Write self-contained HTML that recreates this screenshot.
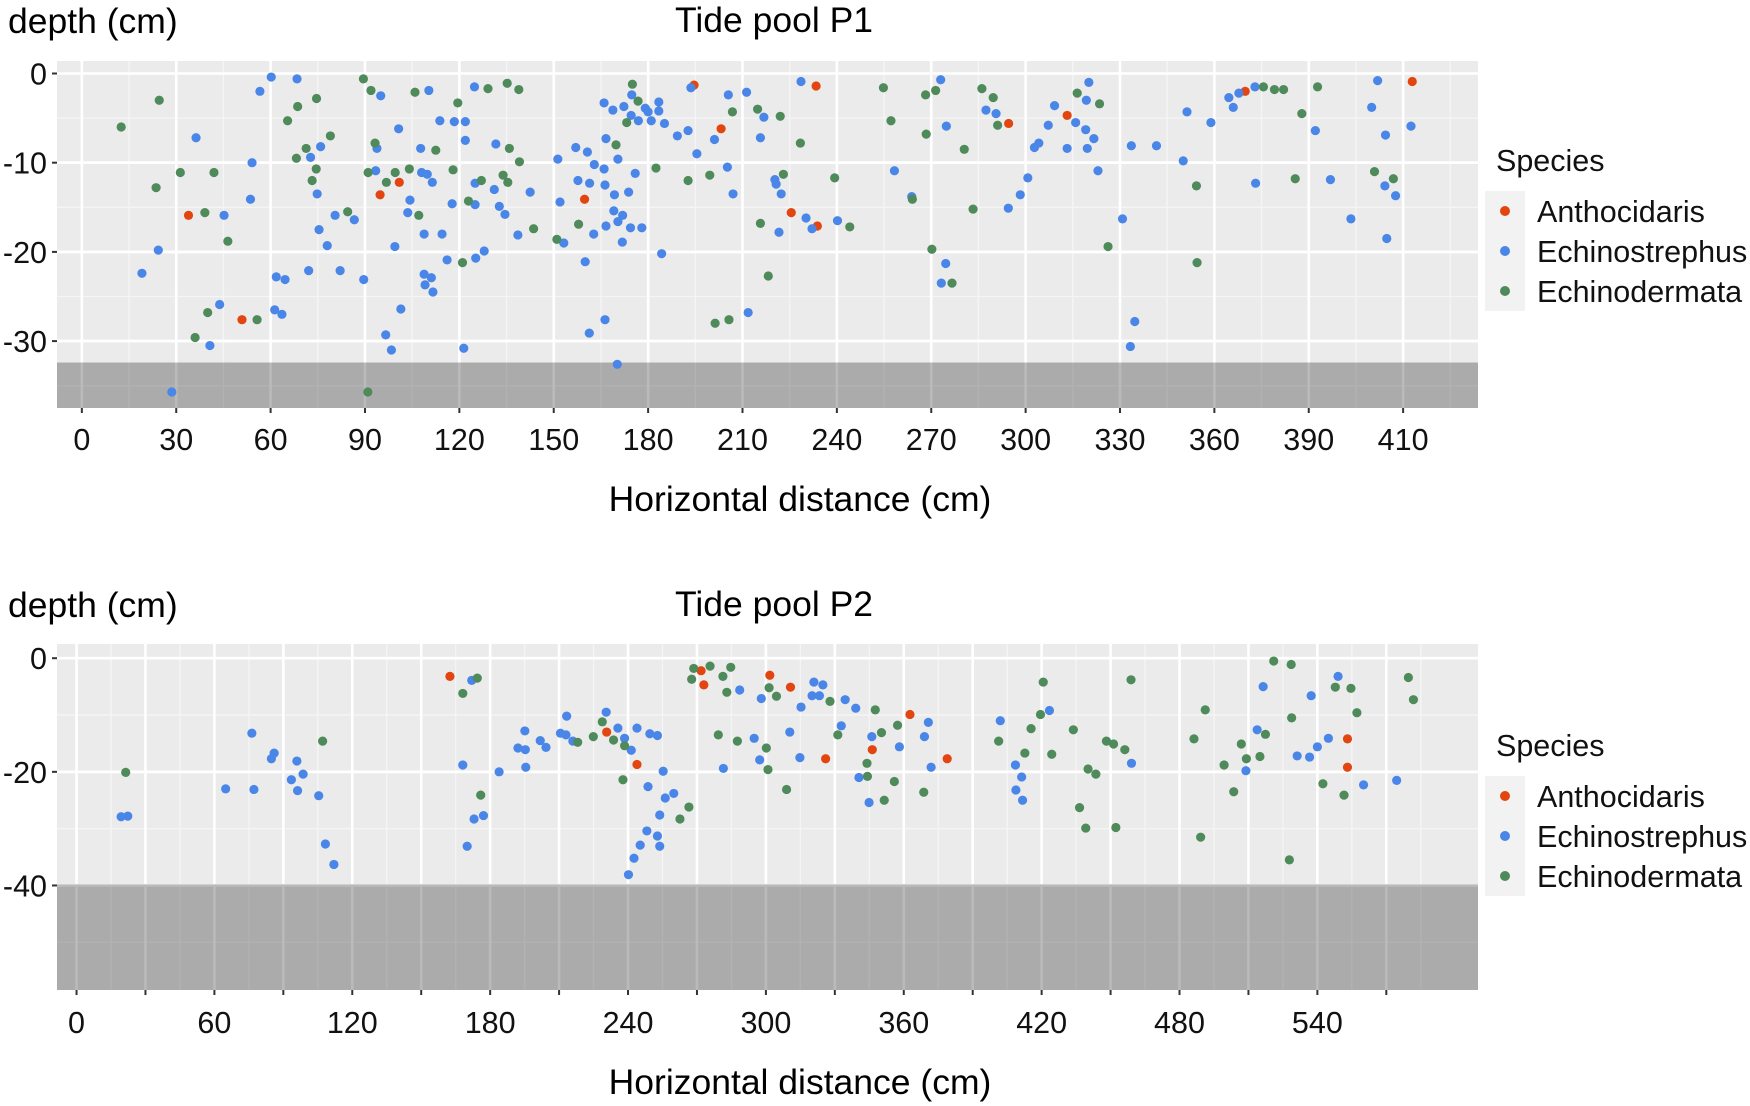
<!DOCTYPE html>
<html><head><meta charset="utf-8"><title>Tide pools</title>
<style>
html,body{margin:0;padding:0;background:#fff;}
svg{display:block;font-family:"Liberation Sans",sans-serif;}
</style></head>
<body>
<svg id="chart" width="1750" height="1106" viewBox="0 0 1750 1106" xmlns="http://www.w3.org/2000/svg">
<text x="8" y="33" font-size="35.5">depth (cm)</text>
<text x="774" y="32" font-size="35.5" text-anchor="middle">Tide pool P1</text>
<text x="800" y="511" font-size="35.5" text-anchor="middle">Horizontal distance (cm)</text>
<text x="8" y="617" font-size="35.5">depth (cm)</text>
<text x="774" y="616" font-size="35.5" text-anchor="middle">Tide pool P2</text>
<text x="800" y="1094" font-size="35.5" text-anchor="middle">Horizontal distance (cm)</text>
<g id="p1"></g>
<g id="p2"></g>
</svg>
<script>
const speciesNames = ["Anthocidaris","Echinostrephus","Echinodermata"];
const speciesColors = ["#e2450f","#4a86e8","#4f8a5b"];

// P1 data [x, depth]
const p1Antho = [[33.9,-15.9],[50.9,-27.6],[94.8,-13.6],[100.9,-12.2],[159.8,-14.1],[194.6,-1.3],[203.2,-6.2],[233.4,-1.4],[225.5,-15.6],[233.8,-17.1],[294.6,-5.6],[313.2,-4.7],[369.8,-2],[422.9,-0.9]];
const p1Echinos = [[19.1,-22.4],[24.3,-19.8],[36.3,-7.2],[28.6,-35.7],[40.7,-30.5],[43.8,-25.9],[45.2,-15.9],[53.6,-14.1],[54.1,-10],[56.6,-2],[60.2,-0.4],[68.4,-0.6],[72.7,-9.4],[75.9,-8.2],[74.8,-13.5],[75.4,-17.5],[78,-19.3],[80.5,-15.9],[86.6,-16.4],[72.1,-22.1],[82.1,-22.1],[61.8,-22.8],[64.6,-23.1],[61.3,-26.5],[63.6,-27],[89.6,-23.1],[95,-2.5],[93.8,-8.4],[93.4,-10.9],[100.7,-6.2],[99.5,-19.4],[96.6,-29.3],[98.4,-31],[101.4,-26.4],[107.7,-8.4],[108,-11.1],[109.8,-11.3],[111.4,-12.2],[104.3,-14.2],[103.6,-15.6],[110.3,-1.9],[108.8,-18],[114.5,-18],[113.8,-5.3],[108.8,-22.5],[111.1,-22.9],[109.1,-23.7],[111.6,-24.5],[116.1,-20.9],[117.7,-14.6],[118.4,-5.4],[121.9,-5.4],[121.9,-7.5],[124.8,-1.5],[125,-12.3],[125,-14.7],[125.2,-20.7],[127.9,-19.9],[121.4,-30.8],[131.6,-7.9],[131.1,-13],[132.7,-14.9],[134.5,-15.8],[138.6,-18.1],[142.5,-13.3],[151.3,-9.6],[152,-14.4],[153.2,-19],[157,-8.3],[157.7,-12],[160.7,-8.8],[161.4,-12.3],[162.9,-10.2],[166,-10.7],[166.3,-12.5],[166.6,-7.3],[166,-3.3],[168.8,-4.1],[172.3,-3.7],[174.8,-2.4],[174.6,-4.7],[176.9,-5.3],[179.1,-3.9],[180,-4.3],[181,-5.3],[183.4,-3.2],[183.4,-4.2],[185.2,-5.6],[170.4,-9.6],[175.9,-11.2],[169.3,-13.6],[173.8,-13.3],[169.1,-15.4],[171.9,-15.9],[170.4,-16.6],[166.6,-17.1],[174.4,-17.3],[178,-17.3],[162.7,-18],[171.8,-18.9],[160,-21.1],[184.3,-20.2],[166.3,-27.6],[161.3,-29.1],[170.2,-32.6],[189.3,-7],[192.7,-6.4],[193.6,-1.6],[195.5,-9],[201.1,-7.4],[205.5,-2.4],[211.3,-2.1],[205.2,-10.5],[207,-13.5],[216.8,-4.9],[215.7,-7.2],[220.3,-11.9],[220.7,-12.4],[222.3,-13.5],[221.6,-17.8],[211.8,-26.8],[228.6,-0.9],[230.2,-16.2],[232.1,-17.4],[240.2,-16.5],[273,-0.7],[258.3,-10.9],[263.8,-13.8],[274.8,-5.9],[274.6,-21.3],[273.2,-23.5],[287.4,-4.1],[290.6,-4.5],[294.5,-15.1],[298.3,-13.6],[300.7,-11.7],[302.8,-8.3],[304.2,-7.8],[307.2,-5.8],[309.2,-3.6],[313.2,-8.4],[315.9,-5.5],[319.1,-6.3],[319.3,-3],[320.1,-1],[319.6,-8.4],[321.7,-7.3],[323,-10.9],[330.8,-16.3],[333.6,-8.1],[341.6,-8.1],[334.7,-27.8],[333.3,-30.6],[350.1,-9.8],[351.3,-4.3],[358.9,-5.5],[364.6,-2.7],[366,-3.8],[367.8,-2.2],[372.9,-1.5],[373.1,-12.3],[392.1,-6.4],[396.9,-11.9],[403.4,-16.3],[410,-3.8],[411.9,-0.8],[414.4,-6.9],[414.2,-12.6],[417.6,-13.7],[414.8,-18.5],[422.5,-5.9]];
const p1Echinod = [[12.5,-6],[24.6,-3],[23.6,-12.8],[31.3,-11.1],[42,-11.1],[39.1,-15.6],[46.4,-18.8],[40,-26.8],[36,-29.6],[55.7,-27.6],[65.4,-5.3],[68.6,-3.7],[74.6,-2.8],[79,-7],[71.3,-8.4],[68.2,-9.5],[74.5,-10.7],[73.2,-12],[84.5,-15.5],[89.5,-0.6],[91.9,-1.9],[93.2,-7.8],[91,-11.1],[96.8,-12.2],[99.6,-11.1],[104.1,-10.7],[105.9,-2.1],[107.1,-15.9],[112.5,-8.6],[119.5,-3.3],[118,-10.8],[122.9,-14.3],[121,-21.2],[127,-12],[129.1,-1.7],[135.2,-1.1],[138.9,-1.8],[135.9,-8.4],[133.9,-11.4],[135.4,-12.2],[139.1,-9.9],[143.6,-17.4],[151,-18.6],[157.9,-16.9],[175,-1.2],[176.8,-3.1],[173.2,-5.5],[169.8,-8],[182.5,-10.6],[192.7,-12],[199.6,-11.4],[206.8,-4.3],[214.8,-4],[222,-4.8],[228.4,-7.8],[223,-11.3],[215.7,-16.8],[218.2,-22.7],[201.3,-28],[205.7,-27.6],[239.3,-11.7],[244.1,-17.2],[90.9,-35.7],[254.8,-1.6],[257.2,-5.3],[268.2,-2.4],[271.4,-1.9],[268.4,-6.8],[280.5,-8.5],[286.1,-1.7],[289.7,-2.7],[291.1,-5.8],[264,-14.1],[283.3,-15.2],[270.2,-19.7],[276.6,-23.5],[316.4,-2.2],[323.5,-3.4],[326.2,-19.4],[354.3,-12.6],[354.5,-21.2],[375.6,-1.5],[379.1,-1.8],[382,-1.8],[392.8,-1.5],[387.8,-4.5],[385.7,-11.8],[410.9,-11],[416.9,-11.8]];

// P2 data
const p2Antho = [[162.5,-3.2],[230.7,-13],[243.9,-18.7],[271.8,-2.2],[273,-4.7],[301.7,-3],[310.7,-5.1],[326,-17.7],[346.3,-16.1],[362.7,-9.9],[378.9,-17.7],[553.1,-14.2],[553.1,-19.2]];
const p2Echinos = [[19.4,-27.9],[22.3,-27.8],[64.9,-23],[76.3,-13.2],[77.2,-23.1],[84.8,-17.7],[86,-16.7],[93.5,-21.4],[95.9,-18.1],[96.2,-23.3],[98.6,-20.4],[105.4,-24.2],[108.3,-32.7],[112,-36.3],[172,-3.9],[168.1,-18.8],[173,-28.3],[177.1,-27.7],[170,-33.1],[183.9,-20],[192.1,-15.8],[195.3,-16.1],[195.1,-12.8],[195.5,-19.2],[201.8,-14.5],[204.3,-15.7],[210.6,-13.2],[213,-13.5],[213.3,-10.2],[216,-14.6],[230.5,-9.5],[235.6,-12.3],[238.5,-14.1],[241.4,-16.2],[243.9,-12.3],[249.5,-13.3],[252.8,-13.6],[255.3,-19.9],[248.7,-22.6],[256.2,-24.6],[259.9,-23.8],[253.8,-27.6],[248.2,-30.4],[252.8,-31.3],[253.8,-33.1],[245.3,-32.9],[242.6,-35.2],[240.2,-38.1],[288.6,-5.6],[281.5,-19.4],[298,-7.1],[294.9,-14.1],[297.3,-17.9],[310.4,-13],[314.8,-17.5],[315.3,-8.6],[320.1,-6.6],[320.9,-4.2],[323.3,-6.6],[324.8,-4.7],[334.5,-7.3],[332.8,-11.9],[339.1,-8.8],[340.5,-21],[344.9,-25.4],[346.1,-13.8],[358.1,-15.6],[369,-13.8],[370.7,-11.3],[371.9,-19.2],[402,-11],[408.6,-18.8],[411.3,-20.9],[408.8,-23.2],[411.7,-25],[423.4,-9.2],[459.1,-18.5],[508.9,-19.8],[513.8,-12.6],[516.4,-5],[531.2,-17.2],[536.6,-17.4],[537.3,-6.6],[540,-15.6],[544.8,-14.1],[549,-3.2],[560.1,-22.3],[574.5,-21.5]];
const p2Echinod = [[21.4,-20.1],[107.1,-14.6],[168.1,-6.2],[174.4,-3.5],[175.9,-24.1],[218.1,-14.8],[224.9,-13.8],[228.8,-11.2],[233.7,-14.4],[238.5,-15.4],[237.8,-21.4],[266.5,-26.2],[262.6,-28.3],[267.7,-3.7],[268.6,-1.8],[275.7,-1.4],[281.3,-3.2],[284.7,-1.6],[283,-6],[279.3,-13.5],[287.6,-14.6],[300.2,-15.8],[300.9,-19.6],[301.4,-5.2],[304.6,-6.7],[309,-23.1],[327.9,-7.6],[331.3,-13.5],[344,-18.5],[344.2,-20.8],[347.6,-9.1],[350.3,-13.1],[357.3,-11.8],[355.9,-21.7],[351.5,-25],[368.7,-23.6],[401.3,-14.6],[412.7,-16.7],[415.4,-12.4],[419.5,-9.9],[420.7,-4.2],[424.4,-16.9],[433.8,-12.6],[436.5,-26.3],[439.2,-29.9],[440.2,-19.5],[443.6,-20.4],[448.2,-14.6],[451.3,-15.1],[452.3,-29.8],[456.2,-16.1],[458.9,-3.8],[486.3,-14.2],[489.2,-31.5],[491.2,-9.1],[499.4,-18.8],[503.6,-23.5],[506.9,-15.1],[509.1,-17.7],[515,-17.3],[517.4,-13.4],[521,-0.5],[528.6,-1.1],[528.8,-10.5],[527.8,-35.5],[542.4,-22.1],[547.8,-5.1],[554.6,-5.3],[551.6,-24.1],[557.2,-9.6],[579.6,-3.4],[581.8,-7.3]];

const p1XTicks = [0,30,60,90,120,150,180,210,240,270,300,330,360,390,420];
const p1XLabels = ["0","30","60","90","120","150","180","210","240","270","300","330","360","390","410"];
const p1YTicks = [0,-10,-20,-30];
const p2XTicks = [0,30,60,90,120,150,180,210,240,270,300,330,360,390,420,450,480,510,540,570];
const p2XLabels = ["0","","60","","120","","180","","240","","300","","360","","420","","480","","540",""];
const p2YTicks = [0,-20,-40];

const NS = "http://www.w3.org/2000/svg";
function mk(parent, tag, attrs){const e=document.createElementNS(NS,tag);for(const k in attrs)e.setAttribute(k,attrs[k]);parent.appendChild(e);return e;}

function drawPanel(cfg){
  const g = document.getElementById(cfg.id);
  const L=57,R=1478,T=cfg.top,B=cfg.bottom;
  const sx = v => L + (v-cfg.xmin)/(cfg.xmax-cfg.xmin)*(R-L);
  const sy = v => T + (cfg.ymax-v)/(cfg.ymax-cfg.ymin)*(B-T);
  const bg = mk(g,'rect',{x:L,y:T,width:R-L,height:B-T,fill:'#ebebeb'});
  
  
  for(let v=cfg.xTicks[0]-cfg.xStep/2; v<=cfg.xmax; v+=cfg.xStep){ if(v<cfg.xmin) continue;
    mk(g,'line',{x1:sx(v),x2:sx(v),y1:T,y2:B,stroke:'#f5f5f5','stroke-width':1.3}); }
  for(let v=cfg.yTicks[0]+cfg.yStep/2; v>=cfg.ymin; v-=cfg.yStep){ if(v>cfg.ymax) continue;
    mk(g,'line',{x1:L,x2:R,y1:sy(v),y2:sy(v),stroke:'#f5f5f5','stroke-width':1.3}); }
  for(let v=cfg.yTicks[0]-cfg.yStep; v>=cfg.ymin; v-=cfg.yStep){
    mk(g,'line',{x1:L,x2:R,y1:sy(v),y2:sy(v),stroke:'#ffffff','stroke-width':2.6}); }
  cfg.xTicks.forEach((v,i)=>{
    const gl = mk(g,'line',{x1:sx(v),x2:sx(v),y1:T,y2:B,stroke:'#ffffff','stroke-width':2.6});
    
    
    mk(g,'line',{x1:sx(v),x2:sx(v),y1:B,y2:B+5,stroke:'#333','stroke-width':2});
    if(cfg.xLabels[i]){
      const t = mk(g,'text',{x:sx(v),y:cfg.xLabelY,'font-size':30.5,'text-anchor':'middle',fill:'#111'});
      t.textContent = cfg.xLabels[i];
      
      
    }
  });
  cfg.yTicks.forEach(v=>{
    const gl = mk(g,'line',{x1:L,x2:R,y1:sy(v),y2:sy(v),stroke:'#ffffff','stroke-width':2.6});
    
    
    mk(g,'line',{x1:L-5,x2:L,y1:sy(v),y2:sy(v),stroke:'#333','stroke-width':2});
    const t = mk(g,'text',{x:47,y:sy(v)+11,'font-size':30.5,'text-anchor':'end',fill:'#111'});
    t.textContent = String(v);
    
    
  });
  const band = mk(g,'rect',{x:L,y:sy(cfg.band),width:R-L,height:B-sy(cfg.band),fill:'#000','fill-opacity':0.27});
  
  
  cfg.series.forEach((s,si)=>{
    s.forEach(p=>{
      const c = mk(g,'circle',{cx:sx(p[0]),cy:sy(p[1]),r:4.6,fill:speciesColors[si]});
      
      
    });
  });
  const lt = mk(g,'text',{x:1496,y:cfg.legTop,'font-size':30.5,fill:'#111'});
  lt.textContent='Species';
  
  
  const kb = mk(g,'rect',{x:1485,y:cfg.legTop+20,width:40,height:120,fill:'#f2f2f2'});
  
  
  speciesNames.forEach((n,i)=>{
    const cy = cfg.legTop+40+i*40;
    const c = mk(g,'circle',{cx:1505,cy:cy,r:5,fill:speciesColors[i]});
    
    
    const t = mk(g,'text',{x:1537,y:cy+11,'font-size':30.5,fill:'#111'});
    t.textContent = n;
    
    
  });
}

drawPanel({id:'p1',top:61,bottom:408,xmin:-7.9,xmax:443.8,ymin:-37.5,ymax:1.4,
  xTicks:p1XTicks,xLabels:p1XLabels,xStep:30,yTicks:p1YTicks,yStep:10,band:-32.4,xLabelY:450,
  legTop:171,series:[p1Antho,p1Echinos,p1Echinod]});
drawPanel({id:'p2',top:644,bottom:990,xmin:-8.5,xmax:609.9,ymin:-58.4,ymax:2.5,
  xTicks:p2XTicks,xLabels:p2XLabels,xStep:30,yTicks:p2YTicks,yStep:20,band:-39.8,xLabelY:1033,
  legTop:756,series:[p2Antho,p2Echinos,p2Echinod]});
</script>
</body></html>
